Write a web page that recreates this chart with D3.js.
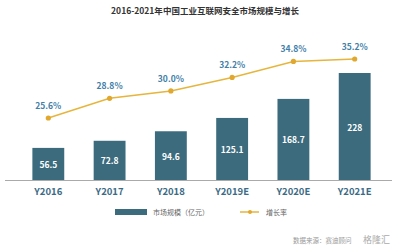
<!DOCTYPE html>
<html><head><meta charset="utf-8">
<script src="https://cdn.jsdelivr.net/npm/d3@7"></script>
<style>body{margin:0;background:#fff}svg{display:block}</style>
</head><body>
<script>
const categories = ["Y2016","Y2017","Y2018","Y2019E","Y2020E","Y2021E"];
const marketSize = [56.5,72.8,94.6,125.1,168.7,228];
const growthRate = [25.6,28.8,30.0,32.2,34.8,35.2];
const title = "2016-2021年中国工业互联网安全市场规模与增长";
const legendLabels = ["市场规模（亿元）","增长率"];
const sourceText = "数据来源：赛迪顾问";
const watermark = "格隆汇";

const W=400,H=250;
const font = "'Noto Sans CJK SC','Noto Sans',sans-serif";
const barColor="#3b6b7d", lineColor="#e6b53c", labelBlue="#3f80a8", axisText="#3b6b85";
const svg=d3.select("body").append("svg").attr("width",W).attr("height",H);

const x=d3.scaleBand().domain(categories).range([14,389]).paddingInner(0.48).paddingOuter(0.3);
const y=d3.scaleLinear().domain([-17,228]).range([180,73]);
const y2=d3.scaleLinear().domain([25.6,35.2]).range([118,59]);

svg.append("text").attr("x",205).attr("y",14).attr("text-anchor","middle")
  .attr("font-family",font).attr("font-size",8.5).attr("font-weight","bold").attr("fill","#333").text(title);

svg.selectAll("rect.bar").data(marketSize).join("rect").attr("class","bar")
  .attr("x",(d,i)=>x(categories[i])).attr("width",x.bandwidth())
  .attr("y",d=>y(d)).attr("height",d=>y(-17)-y(d)).attr("fill",barColor);

svg.selectAll("text.bv").data(marketSize).join("text").attr("class","bv")
  .attr("x",(d,i)=>x(categories[i])+x.bandwidth()/2).attr("y",d=>(y(d)+180)/2+4)
  .attr("text-anchor","middle").attr("font-family",font).attr("font-size",8.5).attr("font-weight","bold")
  .attr("fill","#fff").text(d=>d);

const axis=svg.append("g").attr("transform","translate(0,180)").call(d3.axisBottom(x).tickSize(0).tickPadding(8));
axis.select(".domain").attr("stroke","#aaa").attr("d","M5,0.5H392");
axis.selectAll("text").attr("font-family",font).attr("font-size",9.5).attr("font-weight","bold").attr("fill",axisText);

const cx=(i)=>x(categories[i])+x.bandwidth()/2;
const line=d3.line().x((d,i)=>cx(i)).y(d=>y2(d));
svg.append("path").datum(growthRate).attr("d",line).attr("fill","none").attr("stroke",lineColor).attr("stroke-width",1.5);
svg.selectAll("circle.pt").data(growthRate).join("circle").attr("class","pt")
  .attr("cx",(d,i)=>cx(i)).attr("cy",d=>y2(d)).attr("r",2.6).attr("fill","#e0a82e");
svg.selectAll("text.gl").data(growthRate).join("text").attr("class","gl")
  .attr("x",(d,i)=>cx(i)).attr("y",d=>y2(d)-9)
  .attr("text-anchor","middle").attr("font-family",font).attr("font-size",8.5).attr("font-weight","bold")
  .attr("fill",labelBlue).text(d=>d.toFixed(1)+"%");

// legend
svg.append("rect").attr("x",115).attr("y",209).attr("width",32).attr("height",6).attr("fill",barColor);
svg.append("text").attr("x",153).attr("y",215).attr("font-family",font).attr("font-size",7).attr("fill","#666").text(legendLabels[0]);
svg.append("line").attr("x1",240).attr("x2",259).attr("y1",212).attr("y2",212).attr("stroke",lineColor).attr("stroke-width",1.5);
svg.append("circle").attr("cx",250).attr("cy",212).attr("r",2).attr("fill","#e0a82e");
svg.append("text").attr("x",266).attr("y",215).attr("font-family",font).attr("font-size",7).attr("fill","#666").text(legendLabels[1]);

svg.append("text").attr("x",293).attr("y",243).attr("font-family",font).attr("font-size",6.5).attr("fill","#999").text(sourceText);
svg.append("text").attr("x",390).attr("y",243).attr("text-anchor","end").attr("font-family",font).attr("font-size",9).attr("fill","#aaa").text(watermark);
</script>
</body></html>
